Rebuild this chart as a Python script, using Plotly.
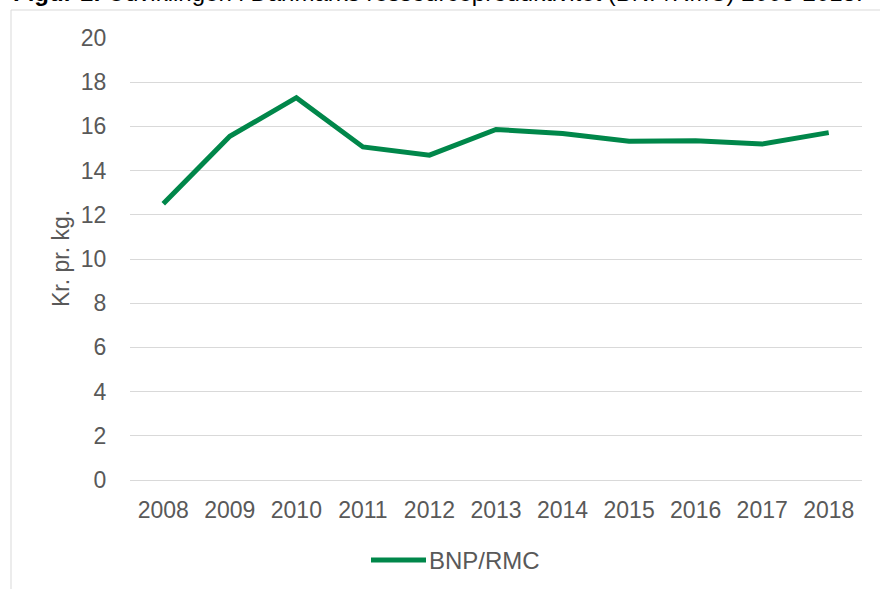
import plotly.graph_objects as go

years = ["2008", "2009", "2010", "2011", "2012", "2013", "2014", "2015", "2016", "2017", "2018"]
bnp_rmc = [12.5, 15.55, 17.3, 15.07, 14.7, 15.86, 15.68, 15.33, 15.35, 15.2, 15.72]
series_name = "BNP/RMC"
y_ticks = [0, 2, 4, 6, 8, 10, 12, 14, 16, 18, 20]
title_bold = "Figur 1:"
title_rest = " Udviklingen i Danmarks ressourceproduktivitet (BNP/RMC) 2008-2018."
y_title = "Kr. pr. kg."

GREEN = "#00874A"
GRID = "#d9d9d9"
TXT = "#595959"
FONT = "Arial, Liberation Sans, sans-serif"
FS = 23

W, H = 880, 589
L, R, T, B = 130, 18, 38, 109
pw = W - L - R
ph = H - T - B

def px(x):
    return (x - L) / pw

def py(y):
    return (H - B - y) / ph

fig = go.Figure()
fig.add_trace(go.Scatter(
    x=years, y=bnp_rmc, mode="lines", name=series_name,
    line=dict(color=GREEN, width=5), showlegend=False,
))

fig.update_layout(
    width=W, height=H,
    margin=dict(l=L, r=R, t=T, b=B),
    paper_bgcolor="white", plot_bgcolor="white",
    font=dict(family=FONT, size=FS, color=TXT),
    xaxis=dict(
        type="category", range=[-0.5, 10.5], showgrid=False, showline=False,
        zeroline=False, ticks="outside", ticklen=9, tickcolor="rgba(0,0,0,0)",
        tickfont=dict(size=FS, color=TXT),
    ),
    yaxis=dict(
        range=[0, 20], tickvals=y_ticks, showgrid=True, gridcolor=GRID, gridwidth=1,
        zeroline=True, zerolinecolor=GRID, zerolinewidth=1, showline=False,
        ticks="outside", ticklen=18, tickcolor="rgba(0,0,0,0)",
        tickfont=dict(size=FS, color=TXT),
    ),
    shapes=[
        dict(type="rect", xref="paper", yref="paper",
             x0=px(11), x1=px(920), y0=py(10), y1=py(620),
             line=dict(color=GRID, width=1), fillcolor="rgba(0,0,0,0)", layer="below"),
        dict(type="line", xref="paper", yref="paper",
             x0=px(371), x1=px(426), y0=py(560), y1=py(560),
             line=dict(color=GREEN, width=5)),
    ],
    annotations=[
        dict(text="<b>" + title_bold + "</b>" + title_rest, xref="paper", yref="paper",
             x=px(11), y=py(8), xanchor="left", yanchor="bottom", showarrow=False,
             font=dict(family=FONT, size=24, color="black")),
        dict(text=y_title, xref="paper", yref="paper", x=px(61), y=0.5,
             xanchor="center", yanchor="middle", textangle=-90, showarrow=False,
             font=dict(family=FONT, size=FS, color=TXT)),
        dict(text=series_name, xref="paper", yref="paper", x=px(427), y=py(560),
             xanchor="left", yanchor="middle", showarrow=False,
             font=dict(family=FONT, size=24, color=TXT)),
    ],
)

fig.write_html(
    "out.html",
    config={"displayModeBar": False},
    post_script="document.body.style.margin='0';document.body.style.overflow='hidden';",
)
